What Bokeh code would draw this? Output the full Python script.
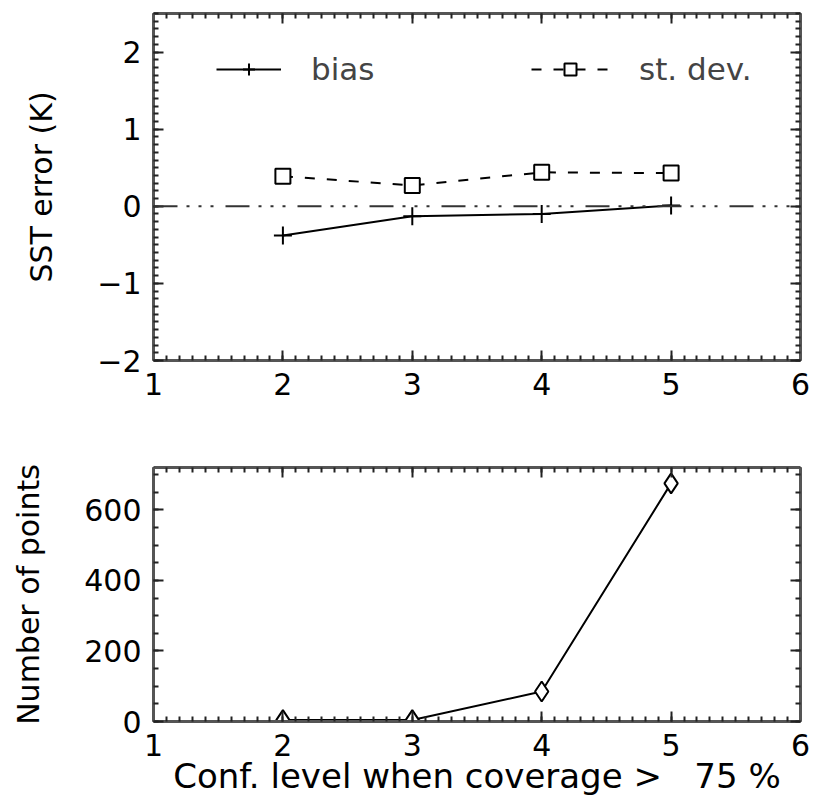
from bokeh.plotting import figure
from bokeh.models import (LinearAxis, Span, Legend, LegendItem, SingleIntervalTicker,
                          CustomJSTickFormatter)
from bokeh.layouts import column
from bokeh.embed import file_html
from bokeh.resources import INLINE

# ---- data ----
conf_level = [2, 3, 4, 5]
bias = [-0.38, -0.13, -0.10, 0.01]
st_dev = [0.39, 0.27, 0.44, 0.43]
n_points = [4, 4, 85, 675]

x_label = "Conf. level when coverage >\u00a0\u00a0\u00a075 %"
y_label_top = "SST error (K)"
y_label_bottom = "Number of points"

FONT = "DejaVu Sans"
TICK_FS = "30px"
LABEL_FS = "30px"
AXIS_COLOR = "#555555"

minus_fmt = CustomJSTickFormatter(code="""
    return tick < 0 ? '\\u2212' + Math.abs(tick) : String(tick);
""")


def style_axis(ax, ticker, show_labels):
    ax.ticker = ticker
    ax.axis_line_color = AXIS_COLOR
    ax.axis_line_width = 3
    ax.major_tick_in = 10
    ax.major_tick_out = 0
    ax.minor_tick_in = 5
    ax.minor_tick_out = 0
    ax.major_tick_line_color = "#222222"
    ax.minor_tick_line_color = "#222222"
    ax.major_tick_line_width = 2
    ax.minor_tick_line_width = 2
    if show_labels:
        ax.major_label_text_font = FONT
        ax.major_label_text_font_size = TICK_FS
        ax.major_label_text_color = "black"
        ax.axis_label_text_font = FONT
        ax.axis_label_text_font_size = LABEL_FS
        ax.axis_label_text_font_style = "normal"
        ax.axis_label_text_color = "black"
    else:
        ax.formatter = CustomJSTickFormatter(code="return '';")
        ax.major_label_text_font_size = "1px"
        ax.major_label_standoff = 0


def box_axes(p, xint, xminor, yint, yminor):
    bottom = p.xaxis[0]
    left = p.yaxis[0]
    style_axis(bottom, SingleIntervalTicker(interval=xint, num_minor_ticks=xminor), True)
    style_axis(left, SingleIntervalTicker(interval=yint, num_minor_ticks=yminor), True)
    bottom.major_label_standoff = 12
    left.major_label_standoff = 12
    top = LinearAxis()
    style_axis(top, SingleIntervalTicker(interval=xint, num_minor_ticks=xminor), False)
    right = LinearAxis()
    style_axis(right, SingleIntervalTicker(interval=yint, num_minor_ticks=yminor), False)
    p.add_layout(top, "above")
    p.add_layout(right, "right")
    p.grid.visible = False
    p.outline_line_color = None
    p.background_fill_color = "white"
    p.border_fill_color = "white"
    return bottom, left


# ---------------- top panel ----------------
p1 = figure(width=810, height=420, x_range=(1, 6), y_range=(-2, 2.5),
            min_border_left=153, min_border_right=10, min_border_top=13, min_border_bottom=60,
            output_backend="svg", toolbar_location=None)
b1, l1 = box_axes(p1, 1, 10, 1, 10)
l1.formatter = minus_fmt
l1.axis_label = y_label_top
l1.axis_label_standoff = 35

p1.add_layout(Span(location=0, dimension="width", line_color="#333333", line_width=2,
                   line_dash="24 9 3 9 3 9 3 12"))

bias_line = p1.line(conf_level, bias, line_color="black", line_width=2)
bias_mark = p1.scatter(conf_level, bias, marker="cross", size=18, line_color="black", line_width=2)
sd_line = p1.line(conf_level, st_dev, line_color="black", line_width=2, line_dash="10 12")
sd_mark = p1.scatter(conf_level, st_dev, marker="square", size=15, fill_color="white",
                     line_color="black", line_width=2)

leg_common = dict(background_fill_alpha=0, border_line_alpha=0, label_text_font=FONT,
                  label_text_font_size="31px", glyph_height=30, label_height=30,
                  padding=0, margin=0, spacing=0, label_standoff=30)
leg1 = Legend(items=[LegendItem(label="bias", renderers=[bias_line, bias_mark])],
              location=(63, 273), glyph_width=65, **leg_common)
leg2 = Legend(items=[LegendItem(label="st. dev.", renderers=[sd_line, sd_mark])],
              location=(378, 273), glyph_width=78, **leg_common)
p1.add_layout(leg1)
p1.add_layout(leg2)

# ---------------- bottom panel ----------------
p2 = figure(width=810, height=378, x_range=(1, 6), y_range=(0, 720),
            min_border_left=153, min_border_right=10, min_border_top=47, min_border_bottom=76,
            output_backend="svg", toolbar_location=None)
b2, l2 = box_axes(p2, 1, 10, 200, 4)
l2.axis_label = y_label_bottom
l2.axis_label_standoff = 35
b2.axis_label = x_label
b2.axis_label_standoff = -3
b2.axis_label_text_font_size = "34px"

p2.line(conf_level, n_points, line_color="black", line_width=2)
p2.scatter(conf_level, n_points, marker="diamond", size=20, fill_color="white",
           line_color="black", line_width=2)

layout = column(p1, p2, spacing=0)
open("out.html", "w").write(file_html(layout, INLINE))
